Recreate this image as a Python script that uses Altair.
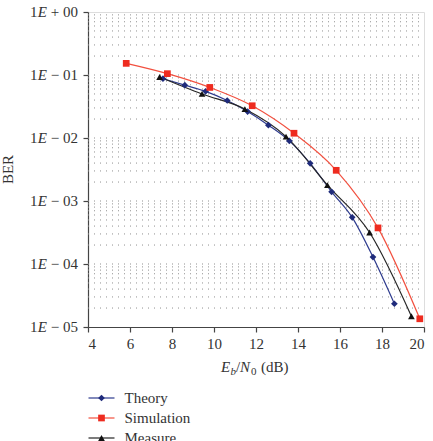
import altair as alt
import pandas as pd

# ---- data ----
series_names = ["Theory", "Simulation", "Measure"]
series_colors = ["#1f2b7b", "#ee2b1f", "#111111"]
line_colors = ["#2e3b8e", "#f2503f", "#262626"]
series_shapes = ["diamond", "square", "triangle-up"]

theory_x = [7.57, 8.61, 9.60, 10.63, 11.60, 12.59, 13.59, 14.58, 15.60, 16.58, 17.57, 18.59]
theory_y = [0.0873, 0.069, 0.055, 0.0394, 0.0263, 0.016, 0.009, 0.00396, 0.0014, 5.5e-4, 1.29e-4, 2.34e-5]

sim_x = [5.82, 7.78, 9.80, 11.82, 13.81, 15.82, 17.81, 19.80]
sim_y = [0.153, 0.105, 0.0635, 0.0325, 0.0119, 0.00307, 3.74e-4, 1.35e-5]

meas_x = [7.41, 9.43, 11.47, 13.43, 15.40, 17.41, 19.40]
meas_y = [0.093, 0.050, 0.0288, 0.0105, 0.00179, 3.16e-4, 1.48e-5]

x_ticks = [4, 6, 8, 10, 12, 14, 16, 18, 20]
y_ticks = [1, 0.1, 0.01, 0.001, 0.0001, 0.00001]
y_tick_sign = ["+", "−", "−", "−", "−", "−"]
y_tick_exp = ["00", "01", "02", "03", "04", "05"]

grid_mantissas = [1, 2, 3, 4, 5, 6, 7, 8, 9]
grid_decades = [-5, -4, -3, -2, -1]

# ---- tables ----
rows = []
for name, xs, ys in [("Theory", theory_x, theory_y), ("Simulation", sim_x, sim_y), ("Measure", meas_x, meas_y)]:
    for i, (a, b) in enumerate(zip(xs, ys)):
        rows.append({"snr": a, "ber": b, "series": name, "order": i})
df = pd.DataFrame(rows)

grid_vals = [m * 10.0 ** d for d in grid_decades for m in grid_mantissas if not (m == 1 and d == -5)]
grid_df = pd.DataFrame({"ber": grid_vals})

ylab_df = pd.DataFrame({
    "ber": y_ticks,
    "tail": [" " + s + " " + e for s, e in zip(y_tick_sign, y_tick_exp)],
    "one": ["1"] * len(y_ticks),
    "E": ["E"] * len(y_ticks),
})

W, H = 336, 315
FONT = "Liberation Serif"
TXT = "#333333"

xscale = alt.Scale(domain=[4, 20], nice=False, zero=False)
yscale = alt.Scale(type="log", domain=[1e-5, 1], nice=False)
color_scale = alt.Scale(domain=series_names, range=series_colors)
stroke_scale = alt.Scale(domain=series_names, range=line_colors)
shape_scale = alt.Scale(domain=series_names, range=series_shapes)

x_axis = alt.Axis(values=x_ticks, grid=False, title=None, tickSize=5, labelPadding=4,
                  labelFont=FONT, labelFontSize=15, labelColor=TXT, tickColor="#444",
                  domainColor="#444", tickWidth=1.2, domainWidth=1.2, format="d")
y_axis = alt.Axis(values=y_ticks, grid=False, title=None, labels=False, tickSize=5,
                  tickColor="#444", domainColor="#444", tickWidth=1.2, domainWidth=1.2)

def xe():
    return alt.X("snr:Q", scale=xscale, axis=x_axis)

def ye():
    return alt.Y("ber:Q", scale=yscale, axis=y_axis)

grid = alt.Chart(grid_df).mark_rule(color="#8f8f8f", strokeWidth=1, strokeDash=[1, 5]).encode(
    y=ye(), x=alt.value(0), x2=alt.value(W)
)

lines = alt.Chart(df).mark_line(strokeWidth=1.2, interpolate="monotone").encode(
    x=xe(), y=ye(),
    stroke=alt.Stroke("series:N", scale=stroke_scale, legend=None),
    order="order:Q",
    detail="series:N",
)

points = alt.Chart(df).mark_point(filled=True, opacity=1, size=45).encode(
    x=xe(), y=ye(),
    color=alt.Color("series:N", scale=color_scale, legend=None),
    shape=alt.Shape("series:N", scale=shape_scale, legend=None),
)

lab_tail = alt.Chart(ylab_df).mark_text(align="right", baseline="middle", font=FONT, fontSize=15, color=TXT).encode(
    y=ye(), x=alt.value(-10), text="tail:N")
lab_E = alt.Chart(ylab_df).mark_text(align="right", baseline="middle", font=FONT, fontSize=15, fontStyle="italic", color=TXT).encode(
    y=ye(), x=alt.value(-41), text="E:N")
lab_one = alt.Chart(ylab_df).mark_text(align="right", baseline="middle", font=FONT, fontSize=15, color=TXT).encode(
    y=ye(), x=alt.value(-50.5), text="one:N")

def t(txt, x, y, size=15, italic=False, angle=None, align="left"):
    kw = dict(align=align, baseline="alphabetic", font=FONT, fontSize=size, color=TXT, text=txt)
    if italic:
        kw["fontStyle"] = "italic"
    if angle is not None:
        kw["angle"] = angle
        kw["baseline"] = "middle"
        kw["align"] = "center"
    return alt.Chart(pd.DataFrame({"a": [0]})).mark_text(**kw).encode(x=alt.value(x), y=alt.value(y))

x0 = 133
ty = 360
title_parts = [
    t("E", x0, ty, italic=True),
    t("b", x0 + 9.5, ty + 3, size=11, italic=True),
    t("/", x0 + 15, ty),
    t("N", x0 + 19, ty, italic=True),
    t("0", x0 + 30, ty + 3, size=11),
    t("(dB)", x0 + 40, ty),
    t("BER", -80, H / 2, angle=270),
]

legend_layers = []
leg_y = [386, 406, 426]
for name, ry in zip(series_names, leg_y):
    ldf = pd.DataFrame({"series": [name]})
    base = alt.Chart(ldf)
    legend_layers.append(base.mark_rule(strokeWidth=1.2).encode(
        x=alt.value(0.5), x2=alt.value(26.5), y=alt.value(ry),
        stroke=alt.Stroke("series:N", scale=stroke_scale, legend=None)))
    legend_layers.append(base.mark_point(filled=True, opacity=1, size=45).encode(
        x=alt.value(13.5), y=alt.value(ry),
        color=alt.Color("series:N", scale=color_scale, legend=None),
        shape=alt.Shape("series:N", scale=shape_scale, legend=None)))
    legend_layers.append(base.mark_text(align="left", baseline="middle", font=FONT, fontSize=15, color=TXT).encode(
        x=alt.value(36.5), y=alt.value(ry), text="series:N"))

chart = alt.layer(
    grid, lines, points, lab_tail, lab_E, lab_one, *title_parts, *legend_layers
).properties(
    width=W, height=H,
    autosize=alt.AutoSizeParams(type="none"),
    padding={"left": 88, "top": 12, "right": 9, "bottom": 120},
).configure_view(stroke="#444", strokeWidth=1.2).configure(background="white")

chart.save("out.html", embed_options={"renderer": "svg", "actions": False})
